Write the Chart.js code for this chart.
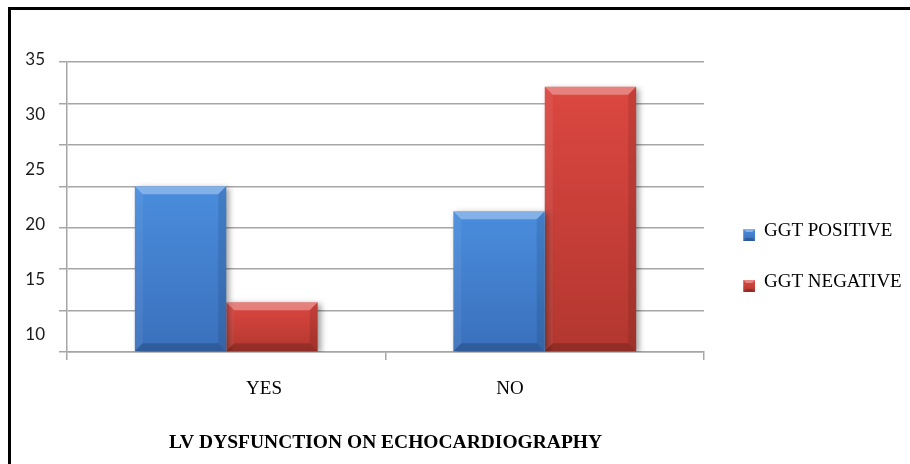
<!DOCTYPE html>
<html>
<head>
<meta charset="utf-8">
<script src="https://cdn.jsdelivr.net/npm/chart.js@4.4.1/dist/chart.umd.min.js"></script>
<style>
  html, body { margin: 0; padding: 0; background: #fff; }
  #wrap { position: relative; width: 910px; height: 464px; overflow: hidden; }
  #chart { position: absolute; left: 0; top: 0; }
  #frame {
    position: absolute; left: 8px; top: 7px; width: 920px; height: 480px;
    border-left: 3px solid #000; border-top: 3px solid #000; pointer-events: none;
  }
</style>
</head>
<body>
<div id="wrap">
  <canvas id="chart" width="910" height="464"></canvas>
  <div id="frame"></div>
</div>
<script>
// ---- data ----
const categories = ['YES', 'NO'];
const seriesNames = ['GGT POSITIVE', 'GGT NEGATIVE'];
const ggtPositive = [20, 17];
const ggtNegative = [6, 32];
const yTickLabels = [10, 15, 20, 25, 30, 35];
const xTitle = 'LV DYSFUNCTION ON ECHOCARDIOGRAPHY';

// ---- styling ----
const SERIF = '"Liberation Serif", "Times New Roman", serif';
const GRID = '#a6a6a6';
const BLUE = { top: '#4a8ddd', bottom: '#3a70bc', flat: '#3f7fcf' };
const RED  = { top: '#dc4741', bottom: '#b2372f', flat: '#cf403b' };

// The value axis runs 0..35 with a gridline every 5; its printed numbers use
// their own, wider spacing that spans LABEL_MIN..LABEL_MAX over the plot height.
const GRID_MAX = 35;
const LABEL_MIN = 8.40;
const LABEL_MAX = 34.81;
const labelToGrid = v => (v - LABEL_MIN) * GRID_MAX / (LABEL_MAX - LABEL_MIN);

// vertical gradient running over each bar's own height
function barFill(ctx, pal) {
  const chart = ctx.chart;
  const yScale = chart.scales.y;
  if (ctx.type !== 'data' || !yScale || !ctx.parsed) return pal.flat;
  const top = yScale.getPixelForValue(ctx.parsed.y);
  const bottom = yScale.getPixelForValue(0);
  if (!isFinite(top) || !isFinite(bottom) || bottom - top < 1) return pal.flat;
  const g = chart.ctx.createLinearGradient(0, top, 0, bottom);
  g.addColorStop(0, pal.top);
  g.addColorStop(1, pal.bottom);
  return g;
}

// small bevelled legend swatch, padded on the left/top so it sits where wanted
function makeSwatch(pal) {
  const cv = document.createElement('canvas');
  cv.width = 20; cv.height = 20;
  const c = cv.getContext('2d');
  const x = 8, y = 8, s = 12, b = 3;
  const g = c.createLinearGradient(0, y, 0, y + s);
  g.addColorStop(0, pal.top);
  g.addColorStop(1, pal.bottom);
  c.fillStyle = g;
  c.fillRect(x, y, s, s);
  c.fillStyle = 'rgba(255,255,255,0.35)';
  c.beginPath(); c.moveTo(x, y); c.lineTo(x + s, y); c.lineTo(x + s - b, y + b); c.lineTo(x + b, y + b); c.closePath(); c.fill();
  c.fillStyle = 'rgba(0,0,0,0.2)';
  c.beginPath(); c.moveTo(x, y + s); c.lineTo(x + b, y + s - b); c.lineTo(x + s - b, y + s - b); c.lineTo(x + s, y + s); c.closePath(); c.fill();
  return cv;
}
const swatches = [makeSwatch(BLUE), makeSwatch(RED)];

// soft drop shadow under the bars plus bevelled edges on each bar
const bevelPlugin = {
  id: 'bevel',
  beforeDatasetsDraw(chart) {
    const c = chart.ctx;
    c.save();
    c.shadowColor = 'rgba(0,0,0,0.38)';
    c.shadowBlur = 6;
    c.shadowOffsetX = 3;
    c.shadowOffsetY = 2;
  },
  afterDatasetsDraw(chart) {
    const c = chart.ctx;
    c.restore();
    const b = 8;
    chart.data.datasets.forEach((ds, di) => {
      const meta = chart.getDatasetMeta(di);
      meta.data.forEach(el => {
        const p = el.getProps(['x', 'y', 'width', 'base'], true);
        const l = p.x - p.width / 2, r = p.x + p.width / 2, t = p.y, bt = p.base;
        const quad = (pts, fill) => {
          c.beginPath();
          c.moveTo(pts[0][0], pts[0][1]);
          for (let i = 1; i < pts.length; i++) c.lineTo(pts[i][0], pts[i][1]);
          c.closePath();
          c.fillStyle = fill;
          c.fill();
        };
        c.save();
        quad([[l, t], [r, t], [r - b, t + b], [l + b, t + b]], 'rgba(255,255,255,0.32)');
        quad([[l, t], [l + b, t + b], [l + b, bt - b], [l, bt]], 'rgba(255,255,255,0.06)');
        quad([[r, t], [r - b, t + b], [r - b, bt - b], [r, bt]], 'rgba(0,0,0,0.10)');
        quad([[l, bt], [l + b, bt - b], [r - b, bt - b], [r, bt]], 'rgba(0,0,0,0.18)');
        c.restore();
      });
    });
  }
};

const isLabelTick = ctx => !!(ctx.tick && ctx.tick.text !== undefined);

const chart = new Chart(document.getElementById('chart'), {
  type: 'bar',
  data: {
    labels: categories,
    datasets: [
      { label: seriesNames[0], data: ggtPositive, xAxisID: 'x', yAxisID: 'y',
        backgroundColor: ctx => barFill(ctx, BLUE), borderWidth: 0,
        barPercentage: 1, categoryPercentage: 0.574 },
      { label: seriesNames[1], data: ggtNegative, xAxisID: 'x', yAxisID: 'y',
        backgroundColor: ctx => barFill(ctx, RED), borderWidth: 0,
        barPercentage: 1, categoryPercentage: 0.574 }
    ]
  },
  options: {
    responsive: false,
    animation: false,
    layout: { padding: { top: 62, left: 0, right: 0, bottom: 13 } },
    plugins: {
      tooltip: { enabled: false },
      legend: {
        position: 'right',
        align: 'center',
        maxWidth: 206,
        labels: {
          usePointStyle: true,
          pointStyleWidth: 18.5,
          boxHeight: 12,
          padding: 32,
          color: '#000',
          font: { family: SERIF, size: 19 },
          generateLabels: ch => Chart.defaults.plugins.legend.labels.generateLabels(ch)
            .map((item, i) => Object.assign(item, { pointStyle: swatches[i % swatches.length] }))
        }
      }
    },
    scales: {
      x: {
        type: 'category', position: 'bottom', weight: 0,
        offset: true,
        grid: { display: true, offset: true, drawOnChartArea: false, drawTicks: true,
                tickLength: 8, color: GRID, lineWidth: 1.5 },
        border: { display: true, color: GRID, width: 1.5 },
        ticks: { display: false },
        afterFit: s => { s.height = 8; }
      },
      xText: {
        type: 'linear', axis: 'x', position: 'bottom', weight: 1,
        offset: false,
        min: 0.199, max: 2.789,
        grid: { display: false, drawTicks: false, offset: false },
        border: { display: false },
        afterBuildTicks: s => { s.ticks = categories.map((c, i) => ({ value: i + 1 })); },
        ticks: {
          callback: v => categories[Math.round(v) - 1],
          font: { family: SERIF, size: 19 }, color: '#000',
          padding: 18, maxRotation: 0, autoSkip: false
        },
        title: {
          display: true, text: xTitle, color: '#000',
          font: { family: SERIF, size: 19.5, weight: 'bold' },
          padding: { top: 0, bottom: -4 }
        },
        afterFit: s => { s.height = 91; }
      },
      y: {
        type: 'linear', position: 'left',
        min: 0, max: GRID_MAX,
        afterBuildTicks: s => {
          const labelTicks = yTickLabels.map(v => ({ value: labelToGrid(v), text: String(v) }));
          s.ticks = s.ticks.concat(labelTicks);
        },
        ticks: {
          stepSize: 5, autoSkip: false,
          callback: (v, i, ticks) => (ticks[i] && ticks[i].text !== undefined ? ticks[i].text : ''),
          font: { family: 'Lato', size: 17 }, color: '#1a1a1a', padding: 14
        },
        grid: {
          color: ctx => (isLabelTick(ctx) ? 'rgba(0,0,0,0)' : GRID),
          lineWidth: ctx => (isLabelTick(ctx) ? 0 : 1.5),
          drawTicks: true, tickLength: 8
        },
        border: { display: true, color: GRID, width: 1.5 },
        afterFit: s => { s.width = 67; }
      }
    }
  },
  plugins: [bevelPlugin]
});

// keep the plot's right edge fixed whatever the legend text width is
const shift = chart.chartArea.right - 704;
if (Math.abs(shift) > 0.5) {
  chart.options.layout.padding.right += shift;
  chart.update('none');
}
</script>
</body>
</html>
